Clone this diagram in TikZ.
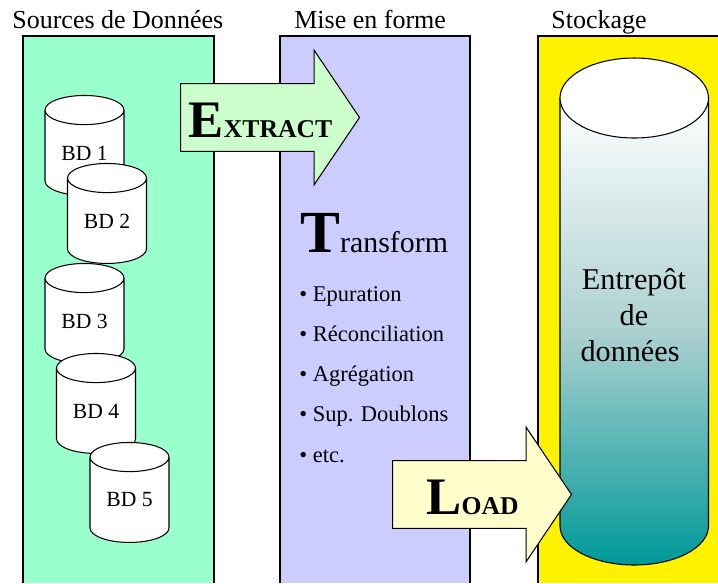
\documentclass[tikz,border=0pt]{standalone}
\usepackage{fontspec}
\setmainfont{Liberation Serif}
\usetikzlibrary{shapes.geometric,shapes.arrows}
\definecolor{sourcegreen}{RGB}{153,255,204}
\definecolor{formpurple}{RGB}{204,204,255}
\definecolor{extractgreen}{RGB}{204,255,204}
\definecolor{loadyellow}{RGB}{255,255,204}
\definecolor{storeteal}{RGB}{0,153,153}
\definecolor{storemid}{RGB}{172,208,208}
\tikzset{
  panel/.style={draw=black, line width=0.6pt},
  title/.style={anchor=base west, font=\fontsize{14.8}{17}\selectfont, inner sep=0pt},
  dbase/.style={cylinder, shape border rotate=90, aspect=0.63, draw=black, fill=white, line width=0.6pt,
    minimum width=1.58cm, minimum height=2cm, inner sep=0pt, font=\fontsize{12.3}{14}\selectfont},
  bigarrow/.style={single arrow, draw=black, line width=0.6pt, minimum height=3.58cm, minimum width=2.68cm,
    single arrow head extend=0.67cm, single arrow head indent=0pt, single arrow tip angle=112, inner sep=0pt,
    text height=30.3pt, text depth=7.7pt, anchor=tail},
  listitem/.style={anchor=base west, font=\fontsize{12.8}{15}\selectfont, inner sep=0pt},
}
\newcommand{\etlword}[2]{\hspace*{2.2pt}{\fontsize{30}{30}\selectfont\bfseries #1}{\fontsize{14.6}{15}\selectfont\bfseries #2}}
\begin{document}
\begin{tikzpicture}[x=0.02cm, y=-0.02cm]
    \useasboundingbox (0, 0) rectangle (718, 583);

    % Panels
    \fill[yellow] (538, 583) rectangle (718, 36);
    \draw[panel, fill=sourcegreen] (23, 583) -- (23, 36) -- (214, 36) -- (214, 583);
    \draw[panel, fill=formpurple] (280, 583) -- (280, 36) -- (470, 36) -- (470, 583);
    \draw[panel] (538, 583) -- (538, 36) -- (718, 36);

    % Titles
    \node[title] (sources) at (12, 28) {Sources de Données};
    \node[title] (forme) at (294, 28) {Mise en forme};
    \node[title] (stockage) at (551, 28) {Stockage};

    % Databases
    \node[dbase] (bd1) at (84.5, 153) {BD 1};
    \node[dbase] (bd2) at (107, 221) {BD 2};
    \node[dbase] (bd3) at (84.5, 321) {BD 3};
    \node[dbase] (bd4) at (96, 411) {BD 4};
    \node[dbase] (bd5) at (129.5, 500) {BD 5};

    % Warehouse
    \draw[line width=0.6pt, top color=white, bottom color=storeteal, middle color=storemid]
        (560, 98) -- (560, 526) arc[start angle=180, end angle=0, x radius=74.25, y radius=39] -- (708.5, 98) -- cycle;
    \draw[line width=0.6pt, fill=white] (634.25, 98) ellipse[x radius=74.25, y radius=40];
    \node[align=center, font=\fontsize{17.2}{20.4}\selectfont, inner sep=0pt] (entrepot) at (634, 315)
        {Entrepôt\\de\hspace*{4.5pt}\\données\hspace*{4.5pt}};

    % Arrows
    \node[bigarrow, fill=extractgreen] (extract) at (180, 117.5) {\etlword{E}{XTRACT}};
    \node[bigarrow, fill=loadyellow] (load) at (392, 494.5) {\etlword{L}{OAD}};

    % Transform
    \node[anchor=base west, inner sep=0pt] (transform) at (300, 252)
        {{\fontsize{34}{34}\selectfont\bfseries T}{\fontsize{17}{17}\selectfont ransform}};
    \foreach \y/\txt in {301/Epuration, 341/Réconciliation, 381/Agrégation, 421/Sup. Doublons, 462/etc.}
    \node[listitem] (item\y) at (299, \y) {\textbullet\ \txt};
\end{tikzpicture}
\end{document}
